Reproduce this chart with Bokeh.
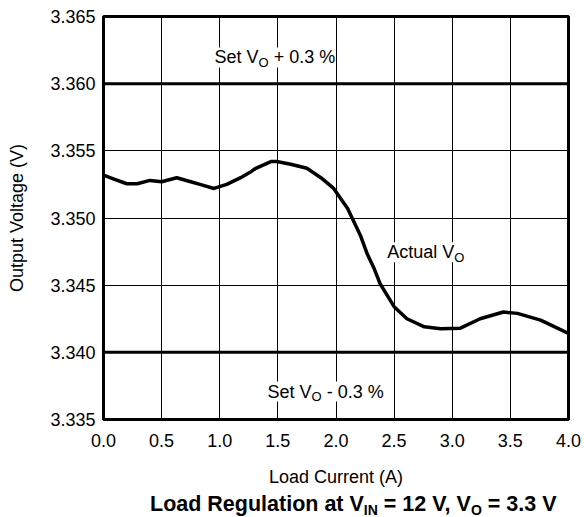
from bokeh.plotting import figure
from bokeh.models import Range1d, FixedTicker, Label, Div
from bokeh.layouts import column
from bokeh.embed import file_html
from bokeh.resources import INLINE

# ---- data ----
load_current = [0.00, 0.09, 0.20, 0.29, 0.40, 0.50, 0.63, 0.75, 0.83, 0.95,
                1.06, 1.18, 1.26, 1.31, 1.44, 1.49, 1.61, 1.75, 1.87, 1.98,
                2.10, 2.21, 2.27, 2.33, 2.38, 2.50, 2.61, 2.76, 2.90, 3.07,
                3.24, 3.44, 3.56, 3.76, 4.00]
output_voltage = [3.3532, 3.3529, 3.35255, 3.35255, 3.3528, 3.3527, 3.3530, 3.3527, 3.3525, 3.3522,
                  3.3525, 3.3530, 3.3534, 3.3537, 3.3542, 3.3542, 3.3540, 3.3537, 3.3530, 3.3522,
                  3.3507, 3.3487, 3.3473, 3.3462, 3.3451, 3.3434, 3.3425, 3.3419, 3.34175, 3.3418,
                  3.3425, 3.3430, 3.3429, 3.3424, 3.3414]
limit_x = [0.0, 4.0]
upper_limit = 3.360
lower_limit = 3.340

x_ticks = [0.0, 0.5, 1.0, 1.5, 2.0, 2.5, 3.0, 3.5, 4.0]
x_tick_labels = ["0.0", "0.5", "1.0", "1.5", "2.0", "2.5", "3.0", "3.5", "4.0"]
y_ticks = [3.335, 3.340, 3.345, 3.350, 3.355, 3.360, 3.365]
y_tick_labels = ["3.335", "3.340", "3.345", "3.350", "3.355", "3.360", "3.365"]

FONT = "Liberation Sans"

# Arial / Liberation Sans advance widths (per 1000 em) for placing subscripts
REG = {' ': 278, '%': 889, '(': 333, ')': 333, '+': 584, ',': 278, '-': 333, '.': 278,
       '=': 584, 'A': 667, 'C': 722, 'I': 278, 'L': 556, 'N': 722, 'O': 778, 'R': 722,
       'S': 667, 'V': 667, 'a': 556, 'c': 500, 'd': 556, 'e': 556, 'g': 556, 'i': 222,
       'l': 222, 'n': 556, 'o': 556, 'r': 333, 't': 278, 'u': 556}


def text_width(s, size):
    return sum((556 if ch.isdigit() else REG.get(ch, 556)) for ch in s) * size / 1000.0


W = 584
MAIN_H = 490
TITLE_H = 27

p = figure(width=W, height=MAIN_H,
           x_range=Range1d(0, 4), y_range=Range1d(3.335, 3.365),
           output_backend="svg", toolbar_location=None,
           min_border_left=103, min_border_right=16, min_border_top=16, min_border_bottom=71)

p.background_fill_color = "white"
p.border_fill_color = "white"
p.outline_line_color = "black"
p.outline_line_width = 3

# axes
p.xaxis.ticker = FixedTicker(ticks=x_ticks)
p.yaxis.ticker = FixedTicker(ticks=y_ticks)
p.xaxis.major_label_overrides = dict(zip(x_ticks, x_tick_labels))
p.yaxis.major_label_overrides = dict(zip(y_ticks, y_tick_labels))
for ax in (p.xaxis, p.yaxis):
    ax.axis_line_color = None
    ax.major_tick_line_color = None
    ax.minor_tick_line_color = None
    ax.major_tick_in = 0
    ax.major_tick_out = 0
    ax.major_label_text_font = FONT
    ax.major_label_text_font_size = "18px"
    ax.major_label_text_color = "black"
    ax.axis_label_text_font = FONT
    ax.axis_label_text_font_size = "18px"
    ax.axis_label_text_font_style = "normal"
    ax.axis_label_text_color = "black"

p.xaxis.axis_label = "Load Current (A)"
p.yaxis.axis_label = "Output Voltage (V)"
p.xaxis.major_label_standoff = 14
p.xaxis.axis_label_standoff = 17
p.yaxis.major_label_standoff = 8
p.yaxis.axis_label_standoff = 20

# grid
p.xgrid.ticker = FixedTicker(ticks=x_ticks)
p.ygrid.ticker = FixedTicker(ticks=y_ticks)
for g in (p.xgrid, p.ygrid):
    g.grid_line_color = "black"
    g.grid_line_width = 1

# limit lines and curve
p.line(limit_x, [upper_limit, upper_limit], line_color="black", line_width=3)
p.line(limit_x, [lower_limit, lower_limit], line_color="black", line_width=3)
p.line(load_current, output_voltage, line_color="black", line_width=3.5, line_join="round")

LIFT = 5  # px: compensates the renderer's baseline placement


def add_rich(fig, x, y, pieces, size, sub_size, sub_drop):
    off = 0.0
    for txt, is_sub in pieces:
        fs = sub_size if is_sub else size
        lead = len(txt) - len(txt.lstrip(' '))
        off += text_width(' ' * lead, fs)
        t = txt.lstrip(' ')
        lbl = Label(x=x, y=y, x_offset=off, y_offset=LIFT + (-sub_drop if is_sub else 0),
                    text=t, text_font=FONT, text_font_size=f"{fs}px",
                    text_color="black", text_align="left", text_baseline="alphabetic",
                    background_fill_color="white")
        fig.add_layout(lbl)
        off += text_width(t, fs)


add_rich(p, 0.955, 3.36158, [("Set V", False), ("O", True), (" + 0.3 %", False)], 18, 13, 5)
add_rich(p, 1.411, 3.33671, [("Set V", False), ("O", True), (" - 0.3 %", False)], 18, 13, 5)
add_rich(p, 2.44, 3.34708, [("Actual V", False), ("O", True)], 18, 13, 5)

# caption below the chart
SUB = "font-size:14px;position:relative;top:4px"
caption = Div(
    width=W, height=TITLE_H,
    text=(f"Load Regulation at V<span style='{SUB}'>IN</span>"
          f" = 12 V, V<span style='{SUB}'>O</span> = 3.3 V"),
    styles={"font-family": FONT, "font-size": "21.5px", "font-weight": "bold", "color": "black",
            "padding-left": "150px", "padding-top": "3px", "line-height": "22px",
            "margin": "0", "white-space": "nowrap"},
)

open("out.html", "w").write(file_html(column(p, caption, spacing=0), INLINE))
